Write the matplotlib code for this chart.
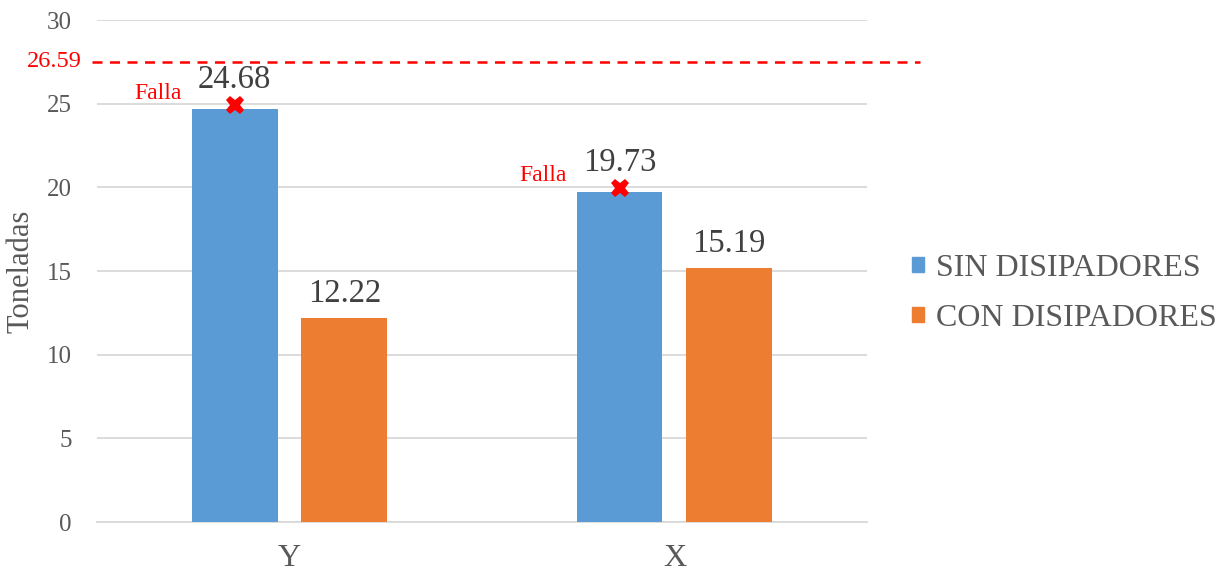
import numpy as np
import matplotlib.pyplot as plt
from matplotlib.patches import Patch

# data
categories = ['Y', 'X']
series_names = ['SIN DISIPADORES', 'CON DISIPADORES']
sin_vals = [24.68, 19.73]
con_vals = [12.22, 15.19]
limit_val = 26.59
limit_draw_y = 27.5   # where the dashed line sits in the original picture

blue = '#5B9BD5'
orange = '#ED7D31'
gray = '#595959'

plt.rcParams['font.family'] = ['Liberation Serif', 'DejaVu Serif']

fig = plt.figure(figsize=(12.26, 5.73), dpi=100)
ax = fig.add_axes([0.0791, 0.089, 0.628, 0.876])

x = np.arange(len(categories))
w = 0.223
off = 0.1425
ax.bar(x - off, sin_vals, w, color=blue, label=series_names[0], zorder=3)
ax.bar(x + off, con_vals, w, color=orange, label=series_names[1], zorder=3)

for xi, v in zip(x - off, sin_vals):
    ax.text(xi, v + 0.85, f'{v:.2f}', ha='center', va='bottom', fontsize=23.5, color='#404040')
    ax.plot(xi, v + 0.25, marker='X', color='red', markersize=13, markeredgewidth=0, zorder=5, clip_on=False)
    ax.text(xi - 0.2, v + 0.95, 'Falla', ha='center', va='center', fontsize=17, color='red')
for xi, v in zip(x + off, con_vals):
    ax.text(xi, v + 0.5, f'{v:.2f}', ha='center', va='bottom', fontsize=23.5, color='#404040')

# limit line
ax.plot([-0.513, 1.637], [limit_draw_y, limit_draw_y], ls=(0, (4, 3)), color='red', lw=1.8,
        clip_on=False, zorder=4)
ax.text(-0.54, limit_draw_y, f'{limit_val:.2f}', ha='right', va='center', fontsize=17.5, color='red')

ax.set_xlim(-0.5, 1.5)
ax.set_ylim(0, 30)
ax.set_yticks(np.arange(0, 31, 5))
ax.set_xticks(x)
ax.set_xticklabels(categories, fontsize=23, color=gray)
ax.tick_params(axis='y', labelsize=18, labelcolor=gray, length=0, pad=18)
ax.tick_params(axis='x', length=0, pad=16)
ax.grid(axis='y', color='#D9D9D9', lw=1.3, zorder=0)
for s in ['top', 'right', 'left']:
    ax.spines[s].set_visible(False)
ax.spines['bottom'].set_color('#D9D9D9')
ax.spines['bottom'].set_linewidth(1.3)
ax.set_ylabel('Toneladas', fontsize=22, color=gray, labelpad=8)

handles = [Patch(color=blue), Patch(color=orange)]
fig.legend(handles, series_names, loc='center left', bbox_to_anchor=(0.726, 0.488),
           frameon=False, fontsize=23, labelcolor=gray, handlelength=0.35, handleheight=0.35,
           handletextpad=0.4, labelspacing=0.65, borderpad=0.2)

fig.savefig('out.png', dpi=100)
